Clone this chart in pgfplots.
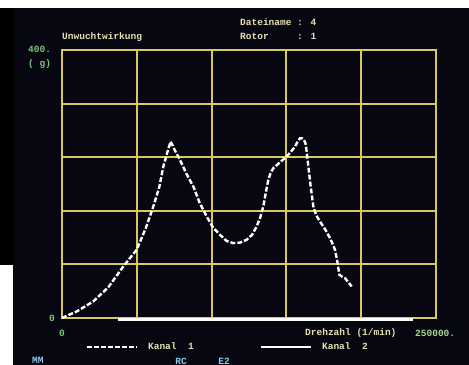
\documentclass[border=0pt]{standalone}
\usepackage{pgfplots}
\pgfplotsset{compat=1.18}
\usepackage{fontspec}
\setmainfont{Liberation Mono}
\definecolor{screen}{HTML}{070712}
\definecolor{gridy}{HTML}{D9C85E}
\definecolor{tcream}{HTML}{E6E0B0}
\definecolor{tgreen}{HTML}{7CC47C}
\definecolor{tgreen2}{HTML}{A8D890}
\definecolor{tcyan}{HTML}{8CC8E8}
\begin{document}
\begin{tikzpicture}
\fontsize{9.5bp}{10bp}\selectfont\bfseries
\path[use as bounding box] (0,0) rectangle (469bp,365bp);
\fill[white] (0,0) rectangle (469bp,365bp);
\fill[screen] (13bp,0) rectangle (469bp,357bp);
\fill[black] (0,100bp) rectangle (13bp,357bp);
\begin{axis}[
  at={(62bp,47bp)}, anchor=south west,
  scale only axis, width=374bp, height=268bp,
  xmin=0, xmax=250000, ymin=0, ymax=400,
  xtick={0,50000,100000,150000,200000,250000},
  ytick={0,80,160,240,320,400},
  xticklabels={}, yticklabels={},
  major tick length=0pt,
  scaled x ticks=false,
  grid=major,
  grid style={gridy, line width=2bp},
  axis line style={gridy, line width=2bp},
  clip=false,
  legend columns=2,
  legend style={at={(0.055,-0.108)}, anchor=west, draw=none, fill=none,
    text=tcream, font=\fontsize{9.5bp}{10bp}\selectfont\bfseries,
    /tikz/every odd column/.append style={column sep=8bp},
    /tikz/every even column/.append style={column sep=64bp}},
  legend image code/.code={\draw[#1] (0bp,0bp) -- (50bp,0bp);},
]
\addplot[white, line width=2.4bp, dash pattern=on 5bp off 2bp] coordinates {
(0,0) (10000,10) (20950,24.8) (31000,46) (41000,77) (49900,101.9)
(56000,134) (61050,166.5) (65000,195) (67740,226) (70500,248) (72640,263.4)
(75500,250) (78880,236) (83000,216) (87790,196.3) (92000,172) (96700,151.6)
(101000,135) (105600,124.2) (110000,115) (114500,111.8) (119000,112.5) (123440,116.8)
(127000,124) (130120,136.6) (132500,150) (134580,166.5) (136300,188) (137920,206.2)
(139500,217) (141270,223.6) (145500,232) (150180,241) (153000,248) (155750,255.9)
(157500,263) (159090,268.3) (160700,268) (161760,265.8) (162700,261) (163100,255.9)
(164000,240) (164660,226) (166300,195) (168000,166.5) (170000,153) (172460,144)
(176000,132) (179140,119.3) (181000,110) (182490,101.9) (184000,85) (185380,64.6)
(187000,62) (189170,59.6) (191500,53) (193630,47.2)
};
\addlegendentry{Kanal\ \ 1}
\addplot[white!90!tcream, line width=2.4bp] coordinates {(37650,-2.5) (234850,-2.5)};
\addlegendentry{Kanal\ \ 2}
\end{axis}
\node[anchor=west, text=tcream, inner sep=0] at (62bp,328bp) {Unwuchtwirkung};
\node[anchor=west, text=tcream, inner sep=0] at (240bp,343bp) {Dateiname : 4};
\node[anchor=west, text=tcream, inner sep=0] at (240bp,329bp) {Rotor\phantom{name} : 1};
\node[anchor=west, text=tgreen, inner sep=0] at (28bp,316bp) {400.};
\node[anchor=west, text=tgreen, inner sep=0] at (28bp,301bp) {( g)};
\node[text=tgreen, inner sep=0] at (52bp,47bp) {0};
\node[text=tgreen, inner sep=0] at (62bp,32bp) {0};
\node[anchor=west, text=tcream, inner sep=0] at (305bp,32bp) {Drehzahl (1/min)};
\node[anchor=west, text=tgreen2, inner sep=0] at (415bp,32bp) {250000.};
\node[anchor=west, text=tcyan, inner sep=0] at (32bp,5bp) {MM};
\node[text=tcyan, inner sep=0] at (181bp,4bp) {RC};
\node[text=tcyan, inner sep=0] at (224bp,4bp) {E2};
\end{tikzpicture}
\end{document}
